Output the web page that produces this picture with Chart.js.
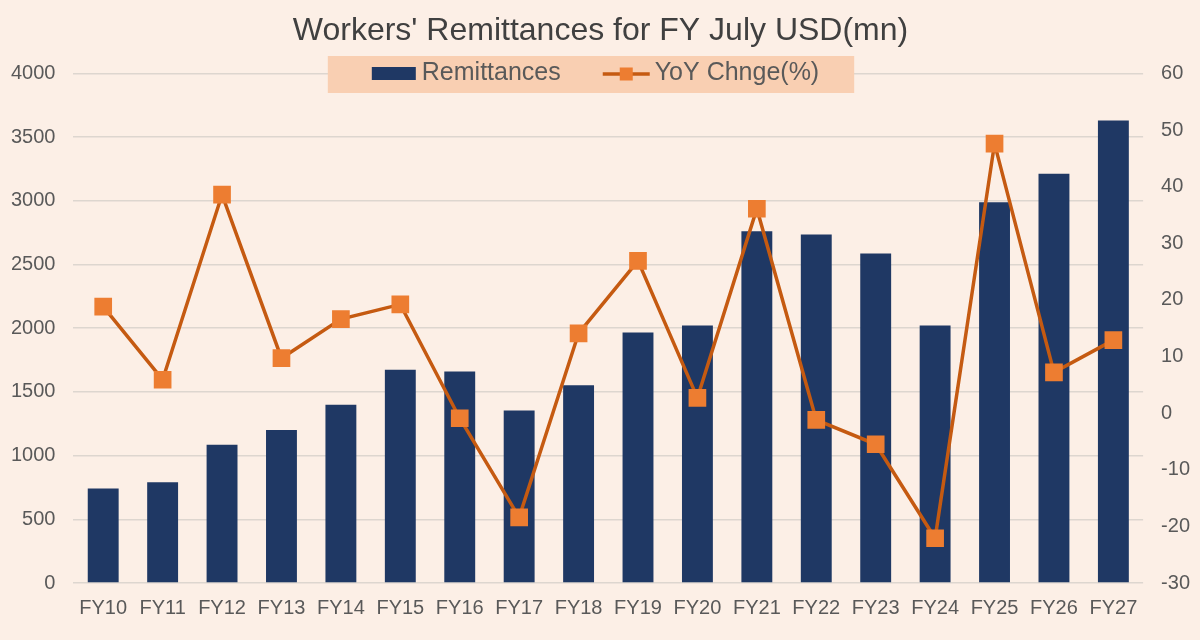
<!DOCTYPE html>
<html>
<head>
<meta charset="utf-8">
<script src="https://cdn.jsdelivr.net/npm/chart.js@4.4.1/dist/chart.umd.min.js"></script>
<style>
  html, body { margin: 0; padding: 0; background: #fcefe6; }
  #wrap { width: 1200px; height: 640px; }
</style>
</head>
<body>
<div id="wrap"><canvas id="remitChart" width="1200" height="640"></canvas></div>
<script>
var years = ["FY10", "FY11", "FY12", "FY13", "FY14", "FY15", "FY16", "FY17", "FY18",
             "FY19", "FY20", "FY21", "FY22", "FY23", "FY24", "FY25", "FY26", "FY27"];
var remittances = [742, 790, 1085, 1200, 1400, 1674, 1660, 1354, 1552,
                   1966, 2021, 2761, 2735, 2586, 2021, 2988, 3213, 3631];
var yoyChange = [18.8, 5.9, 38.6, 9.7, 16.6, 19.2, -0.9, -18.4, 14.1,
                 26.9, 2.7, 36.1, -1.2, -5.5, -22.1, 47.6, 7.2, 12.9];
var remitAxis = [0, 4000, 500];   // min, max, step
var yoyAxis = [-30, 60, 10];

var fontName = '"Liberation Sans", Arial, sans-serif';
var textGrey = '#595959';

// legend sits on top of the 4000 gridline, so it is drawn by hand
var boxLegend = {
    id: 'boxLegend',
    beforeDatasetsDraw: function (chart) {
        var c = chart.ctx;
        var line = chart.data.datasets[0];
        var bar = chart.data.datasets[1];
        c.save();
        c.font = '25px ' + fontName;
        var w1 = c.measureText(bar.label).width;
        var w2 = c.measureText(line.label).width;
        var inner = 44 + 6 + w1 + 42 + 47 + 5 + w2;
        var boxW = inner + 44 + 35;
        var left = 591 - boxW / 2;
        var top = 56, h = 37, mid = 74;

        c.fillStyle = '#f9cfb2';
        c.fillRect(left, top, boxW, h);

        var x = left + 44;
        c.fillStyle = bar.backgroundColor;
        c.fillRect(x, mid - 7, 44, 13);
        x += 50;
        c.fillStyle = textGrey;
        c.textBaseline = 'middle';
        c.fillText(bar.label, x, mid - 1);
        x += w1 + 42;

        c.strokeStyle = line.borderColor;
        c.lineWidth = 3.5;
        c.beginPath();
        c.moveTo(x, mid);
        c.lineTo(x + 47, mid);
        c.stroke();
        c.fillStyle = line.pointBackgroundColor;
        c.fillRect(x + 17, mid - 6.5, 13, 13);
        x += 52;
        c.fillStyle = textGrey;
        c.fillText(line.label, x, mid - 1);
        c.restore();
    }
};

var remitChart = new Chart(document.getElementById('remitChart'), {
    data: {
        labels: years,
        datasets: [{
            type: 'line',
            label: 'YoY Chnge(%)',
            data: yoyChange,
            yAxisID: 'yoy',
            borderColor: '#c55a11',
            borderWidth: 3.5,
            pointStyle: 'rect',
            pointRadius: 12.5,
            pointHoverRadius: 12.5,
            pointBackgroundColor: '#ed7d31',
            pointBorderWidth: 0,
            tension: 0,
            order: 0
        }, {
            type: 'bar',
            label: 'Remittances',
            data: remittances,
            yAxisID: 'remit',
            backgroundColor: '#1f3864',
            barPercentage: 0.52,
            categoryPercentage: 1,
            order: 1
        }]
    },
    options: {
        responsive: false,
        animation: false,
        layout: { padding: { left: -7, right: -8, top: 0, bottom: 7 } },
        plugins: {
            legend: { display: false },
            tooltip: { enabled: false },
            title: {
                display: true,
                text: "Workers' Remittances for FY July USD(mn)",
                color: '#404040',
                font: { family: fontName, size: 32, weight: 'normal' },
                padding: { top: 12, bottom: 23 }
            }
        },
        scales: {
            x: {
                grid: { display: false, drawTicks: false },
                border: { display: false },
                ticks: { color: textGrey, font: { family: fontName, size: 20 }, padding: 13 }
            },
            remit: {
                position: 'left',
                min: remitAxis[0],
                max: remitAxis[1],
                ticks: {
                    stepSize: remitAxis[2],
                    color: textGrey,
                    font: { family: fontName, size: 20 },
                    padding: 18,
                    callback: function (v) { return String(v); }
                },
                grid: { color: '#ddd6cf', lineWidth: 1.5, drawTicks: false },
                border: { display: false }
            },
            yoy: {
                position: 'right',
                min: yoyAxis[0],
                max: yoyAxis[1],
                ticks: {
                    stepSize: yoyAxis[2],
                    color: textGrey,
                    font: { family: fontName, size: 20 },
                    padding: 18
                },
                grid: { display: false, drawTicks: false },
                border: { display: false }
            }
        }
    },
    plugins: [boxLegend]
});
</script>
</body>
</html>
